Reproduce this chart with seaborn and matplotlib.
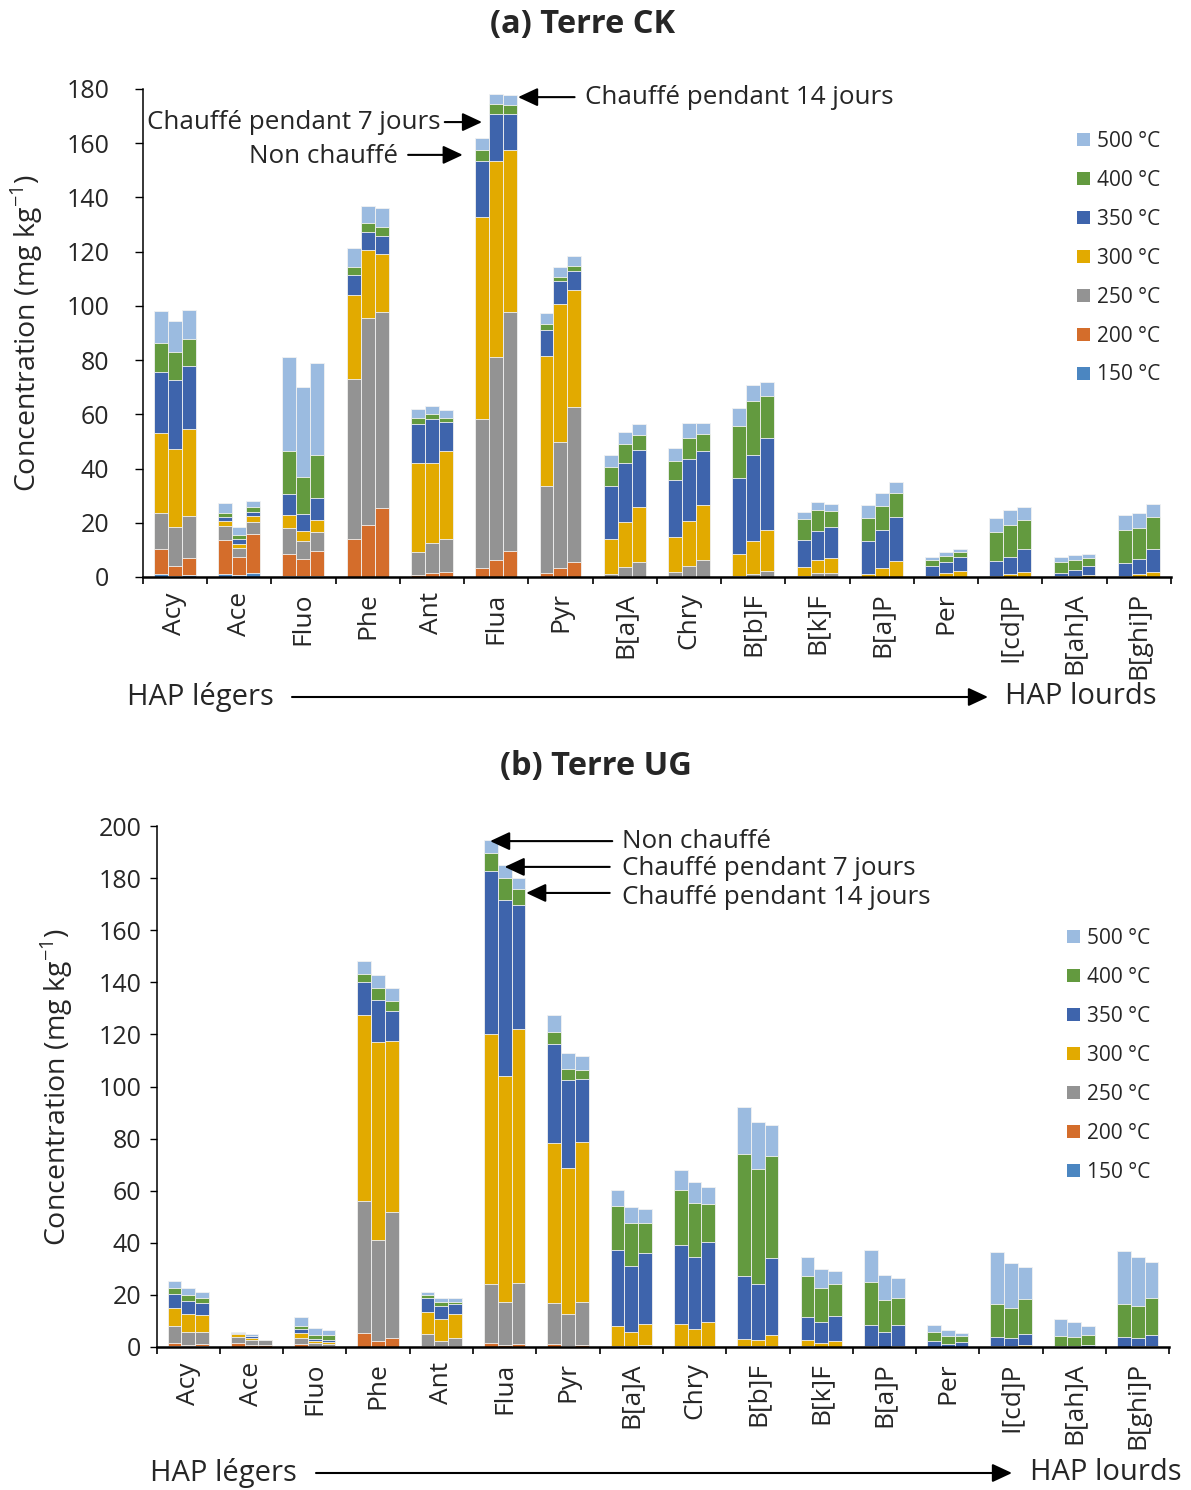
import numpy as np
import pandas as pd
import matplotlib
matplotlib.use("Agg")
import matplotlib.pyplot as plt
from matplotlib.patches import Patch
import seaborn as sns

# -----------------------------
# Data (mg/kg per desorption temperature step)
# each entry: (Non chauffé, Chauffé 7 jours, Chauffé 14 jours)
# -----------------------------
compounds = ['Acy', 'Ace', 'Fluo', 'Phe', 'Ant', 'Flua', 'Pyr', 'B[a]A', 'Chry',
             'B[b]F', 'B[k]F', 'B[a]P', 'Per', 'I[cd]P', 'B[ah]A', 'B[ghi]P']
conds = ['Non chauffé', 'Chauffé pendant 7 jours', 'Chauffé pendant 14 jours']
temps = ['150 °C', '200 °C', '250 °C', '300 °C', '350 °C', '400 °C', '500 °C']
temp_colors = ['#4B86C1', '#D46D2B', '#939393', '#E2AA00', '#3E64AC', '#639A3F', '#9BBBE0']

Z = (0, 0, 0)

# Terre CK
ck_150 = [(1.2, 0.4, 0.6), (1.2, 0.6, 1.6), (0.2, 0.5, 0.2), (0.1, 0.1, 0.1)] + [Z] * 12
ck_200 = [(9.3, 3.5, 6.3), (12.4, 6.7, 14.3), (8.3, 6.2, 9.5), (14.1, 19.0, 25.2),
          (0.9, 1.5, 1.8), (3.3, 6.3, 9.6), (1.5, 3.5, 5.6)] + [Z] * 9
ck_250 = [(13.2, 14.4, 15.5), (5.3, 3.3, 4.4), (9.5, 6.4, 6.9), (58.8, 76.5, 72.3),
          (8.4, 11.2, 12.4), (54.9, 74.7, 88.0), (31.9, 46.2, 57.0), (1.2, 3.8, 5.7),
          (1.8, 4.1, 6.3), (0.4, 1.2, 2.2), (0.4, 1.3, 1.5)] + [Z] * 5
ck_300 = [(29.3, 28.9, 32.3), (1.8, 1.7, 2.1), (4.8, 3.7, 4.3), (31.1, 24.9, 21.7),
          (32.7, 29.3, 32.1), (74.7, 72.6, 60.0), (48.2, 51.1, 43.3), (12.8, 16.6, 20.3),
          (12.8, 16.7, 20.2), (8.2, 11.9, 15.2), (3.4, 4.9, 5.6), (1.1, 3.5, 5.8),
          (0.4, 1.3, 2.3), (0.5, 1.2, 1.7), (0.2, 0.5, 0.9), (0.5, 1.1, 1.7)]
ck_350 = [(22.5, 25.3, 23.2), (1.5, 1.7, 1.7), (7.9, 6.3, 8.3), (7.3, 6.9, 6.6),
          (14.6, 16.4, 10.9), (20.5, 17.1, 13.1), (9.5, 8.3, 7.1), (19.5, 21.7, 20.7),
          (21.0, 22.8, 20.0), (28.0, 32.0, 33.8), (9.9, 10.6, 11.3), (12.0, 13.7, 16.2),
          (3.6, 4.3, 4.9), (5.5, 6.3, 8.6), (1.1, 2.1, 3.1), (4.7, 5.7, 8.6)]
ck_400 = [(10.8, 10.6, 10.0), (1.5, 1.5, 1.9), (15.8, 13.8, 15.8), (3.0, 3.1, 3.1),
          (2.1, 1.9, 1.6), (4.2, 3.6, 3.4), (2.1, 1.7, 1.8), (7.0, 6.9, 5.6),
          (7.1, 7.6, 6.3), (19.0, 19.7, 15.5), (7.6, 7.8, 5.9), (8.7, 8.9, 8.9),
          (2.2, 2.2, 1.9), (10.7, 11.7, 10.9), (4.3, 3.5, 2.9), (12.0, 11.4, 11.7)]
ck_500 = [(11.7, 11.4, 10.7), (3.6, 3.0, 2.2), (34.8, 33.3, 33.8), (6.8, 6.4, 7.0),
          (3.1, 2.8, 2.8), (4.5, 3.8, 3.6), (4.2, 3.6, 3.5), (4.6, 4.4, 4.1),
          (4.9, 5.5, 4.1), (6.6, 6.2, 5.2), (2.8, 2.9, 2.6), (4.7, 4.7, 4.1),
          (1.2, 1.3, 1.1), (5.2, 5.5, 4.7), (1.9, 1.9, 1.5), (5.7, 5.5, 4.8)]

# Terre UG
ug_150 = [(0.5, 0.2, 0.2)] + [Z] * 15
ug_200 = [(1.1, 0.7, 0.9), (1.6, 0.8, 0.9), (1.3, 0.5, 0.5), (5.2, 2.2, 3.4),
          (0.5, 0.3, 0.3), (1.6, 0.8, 1.2), (1.1, 0.5, 0.6)] + [Z] * 9
ug_250 = [(6.6, 5.0, 4.6), (2.2, 1.8, 1.6), (2.3, 1.1, 0.8), (50.9, 39.0, 48.4),
          (4.3, 1.9, 3.3), (22.7, 16.6, 23.5), (15.9, 12.0, 16.8), (0.5, 0.5, 0.6),
          (0.5, 0.3, 0.5), (0.2, 0.2, 0.3), (0.2, 0.1, 0.1)] + [Z] * 5
ug_300 = [(6.9, 6.8, 6.6), (1.1, 0.8, 0.0), (1.7, 0.6, 0.8), (71.2, 76.0, 65.8),
          (8.7, 8.6, 8.9), (95.9, 86.6, 97.4), (61.2, 56.2, 61.3), (7.4, 5.4, 8.4),
          (8.2, 6.6, 9.1), (3.0, 2.4, 4.4), (2.6, 1.6, 2.2), (0.3, 0.1, 0.5),
          (0.1, 0.1, 0.1), (0.3, 0.5, 0.8), (0.0, 0.0, 0.1), (0.1, 0.4, 0.5)]
ug_350 = [(5.4, 5.0, 4.5), (0.3, 0.8, 0.0), (1.6, 1.0, 0.7), (12.7, 16.1, 11.5),
          (5.3, 4.8, 3.9), (62.6, 67.6, 47.5), (38.0, 33.9, 24.3), (29.2, 25.3, 27.1),
          (30.6, 27.6, 30.7), (24.2, 21.7, 29.3), (8.7, 7.8, 9.7), (8.1, 5.7, 7.8),
          (2.1, 1.1, 1.8), (3.7, 3.1, 4.2), (0.5, 0.4, 0.7), (3.6, 3.2, 4.1)]
ug_400 = [(2.2, 2.4, 2.1), (0.2, 0.2, 0.0), (1.3, 1.4, 1.7), (3.2, 4.6, 3.7),
          (1.0, 1.8, 0.8), (7.0, 8.6, 6.1), (4.7, 4.0, 3.3), (16.9, 16.4, 11.5),
          (20.8, 20.8, 14.7), (46.8, 44.0, 39.2), (15.6, 13.3, 12.3), (16.4, 12.2, 10.6),
          (3.6, 3.2, 2.3), (12.5, 11.5, 13.3), (3.7, 3.6, 3.7), (12.9, 12.3, 14.3)]
ug_500 = [(2.7, 2.5, 2.4), (0.5, 0.4, 0.0), (3.2, 2.8, 2.2), (4.8, 4.8, 5.2),
          (1.2, 1.4, 1.6), (4.9, 5.0, 4.5), (6.4, 6.2, 5.5), (6.1, 6.1, 5.4),
          (8.0, 7.9, 6.4), (17.9, 18.2, 11.9), (7.4, 7.1, 4.7), (12.3, 9.6, 7.6),
          (2.5, 2.0, 1.0), (19.8, 17.0, 12.3), (6.4, 5.7, 3.7), (20.3, 18.6, 13.7)]


def build(layers):
    rows = []
    for t, vals in zip(temps, layers):
        for comp, trip in zip(compounds, vals):
            for cond, v in zip(conds, trip):
                rows.append((comp, cond, t, v))
    df = pd.DataFrame(rows, columns=['compound', 'cond', 'temp', 'value'])
    df['cum'] = df.groupby(['compound', 'cond'])['value'].cumsum()
    return df


df_ck = build([ck_150, ck_200, ck_250, ck_300, ck_350, ck_400, ck_500])
df_ug = build([ug_150, ug_200, ug_250, ug_300, ug_350, ug_400, ug_500])

# -----------------------------
# Style
# -----------------------------
sns.set_theme(style="white")
plt.rcParams['font.family'] = ['Open Sans', 'DejaVu Sans']
plt.rcParams['mathtext.fontset'] = 'custom'
plt.rcParams['mathtext.rm'] = 'Open Sans'
FS = 18      # tick labels
FS_CAT = 19  # compound labels
FS_ANN = 18.7
FS_YL = 20.5
FS_TITLE = 23.5

W, H = 1191, 1490
fig = plt.figure(figsize=(W / 100, H / 100), dpi=100)
ax_a = fig.add_axes([142.7 / W, 1 - 577 / H, (1171 - 142.7) / W, (577 - 89) / H])
ax_b = fig.add_axes([156.5 / W, 1 - 1347 / H, (1169.3 - 156.5) / W, (1347 - 826) / H])

ARW = dict(arrowstyle='-|>,head_length=0.6,head_width=0.28', color='black',
           lw=1.5, mutation_scale=20, shrinkA=0, shrinkB=0)


def draw_panel(ax, df, ymax, ytick_pad, ytick_len):
    for t, c in zip(reversed(temps), reversed(temp_colors)):
        sub = df[df['temp'] == t]
        sns.barplot(data=sub, x='compound', y='cum', hue='cond', order=compounds,
                    hue_order=conds, palette=[c] * 3, saturation=1, width=0.65,
                    gap=0, errorbar=None, edgecolor='#f2f2f2', linewidth=0.6,
                    legend=False, ax=ax)
    ax.set_xlim(-0.5, 15.5)
    ax.set_ylim(0, ymax)
    ax.set_yticks(np.arange(0, ymax + 1, 20))
    ax.set_xticks(range(len(compounds)))
    ax.set_xticklabels(compounds, rotation=90, fontsize=FS_CAT)
    ax.set_xticks(np.arange(-0.5, 16, 1), minor=True)
    ax.tick_params(axis='x', which='major', length=0, pad=11)
    ax.tick_params(axis='x', which='minor', length=5, width=1.2, color='black',
                   direction='out', bottom=True)
    ax.tick_params(axis='y', which='major', length=ytick_len, width=1, color='black',
                   direction='out', left=True, pad=ytick_pad, labelsize=FS)
    ax.set_xlabel('')
    ax.set_ylabel('Concentration (mg kg$^{\\mathregular{-1}}$)', fontsize=FS_YL)
    sns.despine(ax=ax)
    ax.spines['left'].set_color('black')
    ax.spines['left'].set_linewidth(1.1)
    ax.spines['bottom'].set_color('black')
    ax.spines['bottom'].set_linewidth(1.8)
    handles = [Patch(facecolor=c, edgecolor='none') for c in reversed(temp_colors)]
    return handles


LEG = dict(loc='upper left', bbox_transform=fig.transFigure, frameon=False, fontsize=15,
           handlelength=0.6, handleheight=0.6, handletextpad=0.35,
           labelspacing=0.86, borderpad=0, borderaxespad=0)

# -----------------------------
# (a) Terre CK
# -----------------------------
h = draw_panel(ax_a, df_ck, 180, 18, 6)
ax_a.yaxis.set_label_coords(-0.095, 0.5)
ax_a.legend(h, list(reversed(temps)), bbox_to_anchor=(1077 / W, 1 - 131 / H), **LEG)

ax_a.text(4.13, 167.5, 'Chauffé pendant 7 jours', ha='right', va='center', fontsize=FS_ANN)
ax_a.annotate('', xy=(4.78, 167.8), xytext=(4.20, 167.8), arrowprops=ARW)
ax_a.text(3.47, 155.0, 'Non chauffé', ha='right', va='center', fontsize=FS_ANN)
ax_a.annotate('', xy=(4.48, 155.7), xytext=(3.63, 155.7), arrowprops=ARW)
ax_a.text(6.38, 176.7, 'Chauffé pendant 14 jours', ha='left', va='center', fontsize=FS_ANN)
ax_a.annotate('', xy=(5.34, 177.0), xytext=(6.22, 177.0), arrowprops=ARW)

fig.text(583 / W, 1 - 25 / H, '(a) Terre CK', ha='center', va='center',
         fontsize=FS_TITLE, fontweight='bold')

# -----------------------------
# (b) Terre UG
# -----------------------------
h = draw_panel(ax_b, df_ug, 200, 6, 5)
ax_b.yaxis.set_label_coords(-0.08, 0.5)
ax_b.legend(h, list(reversed(temps)), bbox_to_anchor=(1067 / W, 1 - 928 / H), **LEG)

ax_b.text(6.85, 194.2, 'Non chauffé', ha='left', va='center', fontsize=FS_ANN)
ax_b.annotate('', xy=(4.77, 194.2), xytext=(6.70, 194.2), arrowprops=ARW)
ax_b.text(6.85, 183.5, 'Chauffé pendant 7 jours', ha='left', va='center', fontsize=FS_ANN)
ax_b.annotate('', xy=(5.00, 184.3), xytext=(6.66, 184.3), arrowprops=ARW)
ax_b.text(6.85, 172.7, 'Chauffé pendant 14 jours', ha='left', va='center', fontsize=FS_ANN)
ax_b.annotate('', xy=(5.34, 174.3), xytext=(6.66, 174.3), arrowprops=ARW)

fig.text(596 / W, 1 - 767 / H, '(b) Terre UG', ha='center', va='center',
         fontsize=FS_TITLE, fontweight='bold')

# -----------------------------
# Light -> heavy PAH arrows
# -----------------------------
for y, xl, x0, x1, xr in [(697, 127, 292, 988, 1005), (1473, 150, 316, 1012, 1030)]:
    fy = 1 - y / H
    fig.text(xl / W, fy, 'HAP légers', ha='left', va='center', fontsize=21)
    fig.text(xr / W, fy, 'HAP lourds', ha='left', va='center', fontsize=21)
    ax_a.annotate('', xy=(x1 / W, fy), xytext=(x0 / W, fy), xycoords='figure fraction',
                  textcoords='figure fraction', arrowprops=ARW)

fig.savefig("out.png", dpi=100)
